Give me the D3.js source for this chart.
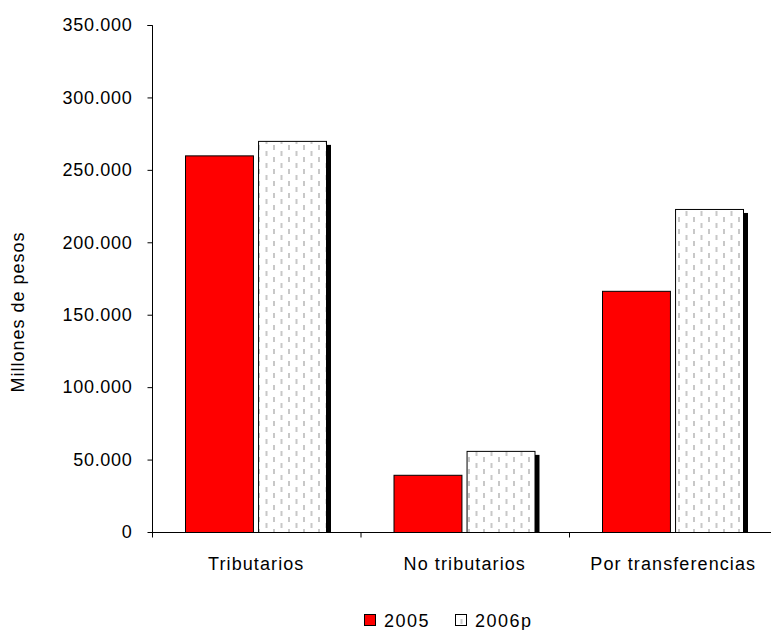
<!DOCTYPE html>
<html><head><meta charset="utf-8">
<script src="https://cdn.jsdelivr.net/npm/d3@7"></script>
<style>body{margin:0;background:#fff}svg{font-family:"Liberation Sans",Arial,sans-serif}</style>
</head><body>
<svg id="c" width="771" height="630"></svg>
<script>
const categories = ["Tributarios", "No tributarios", "Por transferencias"];
const seriesNames = ["2005", "2006p"];
const values2005 = [260000, 39500, 166500];
const values2006p = [270000, 56000, 223000];
const yTicks = [0, 50000, 100000, 150000, 200000, 250000, 300000, 350000];

const svg = d3.select("#c");
const FONT = "Liberation Sans, Arial, sans-serif";
const x0 = 152, x1 = 777.5, yTop = 25, yBot = 532;
const x = d3.scaleBand().domain(categories).range([x0, x1]).paddingInner(0).paddingOuter(0);
const xs = d3.scaleBand().domain(seriesNames).range([33, 174]).paddingInner(0.07).paddingOuter(0);
const y = d3.scaleLinear().domain([0, 350000]).range([yBot, yTop]);

const defs = svg.append("defs");
const pat = defs.append("pattern").attr("id", "dash").attr("patternUnits", "userSpaceOnUse")
  .attr("width", 15).attr("height", 12).attr("x", 0).attr("y", 0);
pat.append("rect").attr("width", 15).attr("height", 12).attr("fill", "#fff");
pat.append("rect").attr("x", 3).attr("y", 1).attr("width", 2).attr("height", 5).attr("fill", "#c8c8c8");
pat.append("rect").attr("x", 10.5).attr("y", 7).attr("width", 2).attr("height", 5).attr("fill", "#c8c8c8");

const lbl = v => v === 0 ? "0" : (v/1000) + ".000";

const data = categories.map((c, i) => ({c, vals: [values2005[i], values2006p[i]]}));

// shadows for 2006p
svg.append("g").selectAll("rect").data(data).join("rect")
  .attr("x", d => x(d.c) + xs("2006p") + 5)
  .attr("y", d => y(d.vals[1]) + 4)
  .attr("width", xs.bandwidth())
  .attr("height", d => yBot - y(d.vals[1]) - 4)
  .attr("fill", "#000");

// bars
svg.append("g").selectAll("rect.a").data(data).join("rect")
  .attr("x", d => x(d.c) + xs("2005") + 0.5)
  .attr("y", d => y(d.vals[0]) + 0.5)
  .attr("width", xs.bandwidth())
  .attr("height", d => yBot - y(d.vals[0]))
  .attr("fill", "#ff0000").attr("stroke", "#000").attr("stroke-width", 1);
svg.append("g").selectAll("rect.b").data(data).join("rect")
  .attr("x", d => x(d.c) + xs("2006p") + 0.5)
  .attr("y", d => y(d.vals[1]) + 0.5)
  .attr("width", xs.bandwidth())
  .attr("height", d => yBot - y(d.vals[1]))
  .attr("fill", "url(#dash)").attr("stroke", "#000").attr("stroke-width", 1);

// y axis
const ya = svg.append("g").attr("transform", `translate(${x0 + 0.5},0)`)
  .call(d3.axisLeft(y).tickValues(yTicks).tickSize(5).tickPadding(15).tickFormat(lbl));
ya.selectAll("text").attr("font-size", 18).attr("letter-spacing", 0.7).attr("fill", "#000").attr("font-family", FONT);
ya.selectAll("line").attr("stroke", "#000");
ya.select(".domain").attr("stroke", "#000").attr("d", `M-5,${yTop + 0.5}H0V${yBot + 0.5}`);

// x axis
const xa = svg.append("g").attr("transform", `translate(0,${yBot + 0.5})`)
  .call(d3.axisBottom(x).tickSize(0).tickPadding(25));
xa.select(".domain").attr("stroke", "#000").attr("d", `M${x0},0H${x1}`);
xa.selectAll("text").attr("font-size", 18).attr("letter-spacing", 1.1).attr("fill", "#000").attr("font-family", FONT);
xa.selectAll(".tick").append("line").attr("stroke", "#000")
  .attr("x1", d => -x.bandwidth() / 2 + 0.5).attr("x2", d => -x.bandwidth() / 2 + 0.5)
  .attr("y1", 0).attr("y2", 5);

// y title
svg.append("text").attr("transform", "translate(24,312) rotate(-90)")
  .attr("text-anchor", "middle").attr("font-size", 18).attr("letter-spacing", 1)
  .attr("font-family", FONT).text("Millones de pesos");

// legend
const lg = svg.append("g").attr("font-size", 18).attr("font-family", FONT).attr("letter-spacing", 1.5);
const items = [{n: "2005", fill: "#ff0000", x: 364}, {n: "2006p", fill: "url(#dash)", x: 455}];
items.forEach(it => {
  lg.append("rect").attr("x", it.x + 0.5).attr("y", 614.5).attr("width", 11).attr("height", 11)
    .attr("fill", it.fill).attr("stroke", "#000");
  lg.append("text").attr("x", it.x + 20).attr("y", 627).text(it.n);
});
</script>
</body></html>
